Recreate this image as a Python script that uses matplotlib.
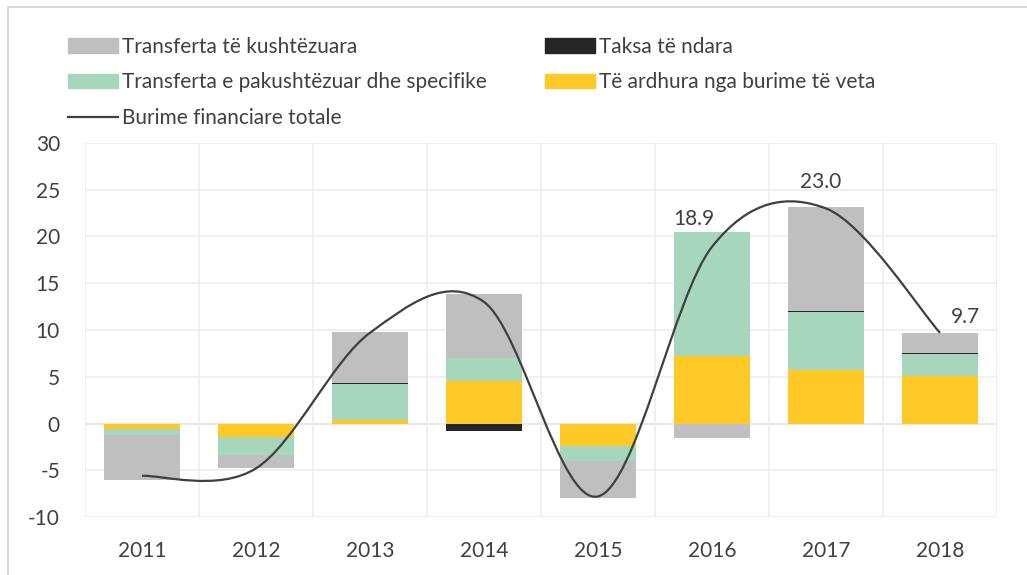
import numpy as np
import matplotlib.pyplot as plt
from matplotlib.path import Path
from matplotlib.patches import PathPatch, Patch, Rectangle
from matplotlib.lines import Line2D

plt.rcParams['font.family'] = ['Lato', 'DejaVu Sans']

years = ['2011', '2012', '2013', '2014', '2015', '2016', '2017', '2018']

# components (billion lek)
own_revenue = [-0.6, -1.4, 0.4, 4.55, -2.4, 7.2, 5.7, 5.1]        # Të ardhura nga burime të veta
uncond_transfer = [-0.6, -2.0, 3.8, 2.45, -1.6, 13.3, 6.25, 2.3]  # Transferta e pakushtëzuar dhe specifike
shared_taxes = [0.0, 0.0, 0.1, -0.75, 0.0, -0.1, 0.1, 0.1]         # Taksa të ndara
cond_transfer = [-4.8, -1.35, 5.5, 6.8, -4.0, -1.5, 11.1, 2.2]     # Transferta të kushtëzuara
total = [-5.6, -4.8, 9.7, 13.0, -7.8, 18.9, 23.0, 9.7]             # Burime financiare totale

labelled = [5, 6, 7]
label_offsets = [(-13, 13), (-4, 12), (18, 4)]

c_grey = '#BFBFBF'
c_black = '#262626'
c_green = '#A6D7BC'
c_yellow = '#FFCA27'
c_line = '#3F3F3F'

fig = plt.figure(figsize=(10.27, 5.75), dpi=100)
ax = fig.add_axes([85/1027, 1-517/575, 912/1027, 374/575])

x = np.arange(len(years))
w = 0.67
series = [(own_revenue, c_yellow), (uncond_transfer, c_green),
          (shared_taxes, c_black), (cond_transfer, c_grey)]
pos_base = np.zeros(len(years))
neg_base = np.zeros(len(years))
for vals, col in series:
    vals = np.array(vals)
    base = np.where(vals >= 0, pos_base, neg_base)
    ax.bar(x, vals, w, bottom=base, color=col, edgecolor='none', zorder=2)
    pos_base += np.where(vals >= 0, vals, 0)
    neg_base += np.where(vals < 0, vals, 0)

# smoothed line like Excel (bezier with 1/6 tangents)
y = np.array(total)
n = len(y)
verts = [(x[0], y[0])]
codes = [Path.MOVETO]
for i in range(n - 1):
    p0 = np.array([x[max(i-1, 0)], y[max(i-1, 0)]])
    p1 = np.array([x[i], y[i]])
    p2 = np.array([x[i+1], y[i+1]])
    p3 = np.array([x[min(i+2, n-1)], y[min(i+2, n-1)]])
    c1 = p1 + (p2 - p0) / 6
    c2 = p2 - (p3 - p1) / 6
    verts += [tuple(c1), tuple(c2), tuple(p2)]
    codes += [Path.CURVE4] * 3
ax.add_patch(PathPatch(Path(verts, codes), facecolor='none', edgecolor=c_line,
                       lw=1.6, zorder=3))

for i, (dx, dy) in zip(labelled, label_offsets):
    ax.annotate(f'{total[i]:.1f}', (x[i], total[i]), xytext=(dx, dy),
                textcoords='offset points', ha='center', va='bottom',
                fontsize=15, color='#404040')

ax.set_xlim(-0.5, len(years) - 0.5)
ax.set_ylim(-10, 30)
ax.set_yticks(range(-10, 31, 5))
ax.set_yticklabels([str(v) for v in range(-10, 31, 5)])
ax.set_xticks(x)
ax.set_xticklabels(years)
ax.set_xticks(np.arange(-0.5, len(years)), minor=True)
ax.grid(which='minor', axis='x', color='#EDEDED', lw=1.2, zorder=0)
ax.grid(which='major', axis='y', color='#EDEDED', lw=1.2, zorder=0)
ax.axhline(0, color='#D4D4D4', lw=1.5, zorder=1)
ax.tick_params(which='both', length=0)
ax.tick_params(axis='x', pad=17, labelsize=15, labelcolor='#404040')
ax.tick_params(axis='y', pad=18, labelsize=15, labelcolor='#404040')
for s in ax.spines.values():
    s.set_visible(False)

handles = [Patch(color=c_grey), Patch(color=c_green), Line2D([], [], color=c_line, lw=1.6),
           Patch(color=c_black), Patch(color=c_yellow)]
labels = ['Transferta të kushtëzuara', 'Transferta e pakushtëzuar dhe specifike',
          'Burime financiare totale', 'Taksa të ndara', 'Të ardhura nga burime të veta']
fig.legend(handles, labels, ncol=2, loc='upper left', bbox_to_anchor=(49/1027, 1-18/575),
           frameon=False, fontsize=15, labelcolor='#404040', handlelength=2.4,
           handleheight=0.7, handletextpad=0.2, columnspacing=2.8, labelspacing=0.75)

fig.add_artist(Rectangle((8/1027, -0.1), 1.2, 1 - 7/575 + 0.1, transform=fig.transFigure,
                         fill=False, edgecolor='#D9D9D9', lw=1.5))

fig.savefig('out.png', dpi=100)
